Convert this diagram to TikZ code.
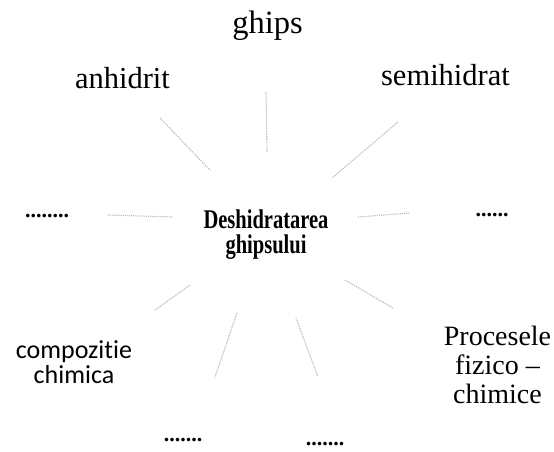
\documentclass[tikz,border=0pt]{standalone}
\usepackage{fontspec}
\setmainfont{Liberation Serif}
\newfontfamily\calib[Ligatures=NoCommon]{Carlito}
\begin{document}
\begin{tikzpicture}[x=1pt,y=-1pt,
  lbl/.style={inner sep=0pt,anchor=base,font=\fontsize{30.5}{34}\selectfont},
  spoke/.style={draw=gray!55,line width=1.1pt,densely dotted},
  dotsl/.style={inner sep=0pt,anchor=base,font=\bfseries\fontsize{22}{26}\selectfont}]
\useasboundingbox (0,0) rectangle (554,451);
% texts
\node[lbl,font=\fontsize{32.5}{36}\selectfont] (ghips) at (267.5,33) {ghips};
\node[lbl] (anh) at (122.5,88) {anhidrit};
\node[lbl] (semi) at (445.5,85) {semihidrat};
\node[inner sep=0pt,anchor=base,align=center,font=\bfseries\fontsize{27}{25}\selectfont] (center) at (266,253)
  {\scalebox{0.76}[1]{Deshidratarea}\\\scalebox{0.76}[1]{ghipsului}};
\node[dotsl] (dl) at (47,217) {........};
\node[dotsl] (dr) at (492,216) {......};
\node[inner sep=0pt,anchor=base,align=center,font=\calib\fontsize{26}{25}\selectfont] (comp) at (74,383) {compozitie\\chimica};
\node[inner sep=0pt,anchor=base,align=center,font=\fontsize{28}{29}\selectfont] (proc) at (497.5,403) {Procesele\\fizico --\\chimice};
\node[dotsl] (db1) at (183,441) {.......};
\node[dotsl] (db2) at (325,445) {.......};
% spoke ends
\coordinate (a1) at (266,92);  \coordinate (b1) at (267,152);
\coordinate (a2) at (160,118); \coordinate (b2) at (210,170);
\coordinate (a3) at (398,122); \coordinate (b3) at (332,178);
\coordinate (a4) at (108,215); \coordinate (b4) at (173,217);
\coordinate (a5) at (358,217); \coordinate (b5) at (410,213);
\coordinate (a6) at (155,310); \coordinate (b6) at (190,285);
\coordinate (a7) at (345,280); \coordinate (b7) at (393,308);
\coordinate (a8) at (237,313); \coordinate (b8) at (215,377);
\coordinate (a9) at (296,318); \coordinate (b9) at (318,377);
\foreach \i in {1,...,9} {\draw[spoke] (a\i) -- (b\i);}
\end{tikzpicture}
\end{document}
